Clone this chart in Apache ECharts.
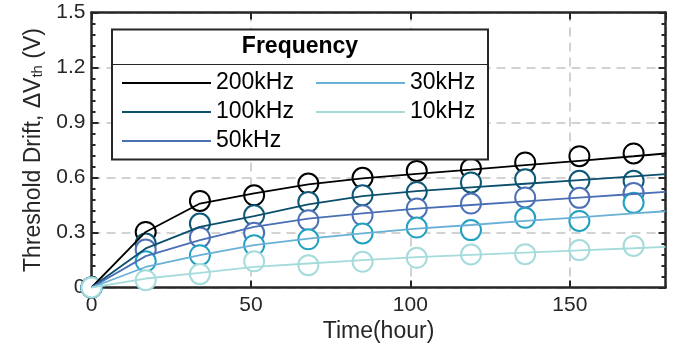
<!DOCTYPE html>
<html>
<head>
<meta charset="utf-8">
<script src="https://cdn.jsdelivr.net/npm/echarts@6/dist/echarts.min.js"></script>
<style>
html,body{margin:0;padding:0;background:#fff;}
#c{width:676px;height:351px;}
</style>
</head>
<body>
<div id="c"></div>
<script>
// ---- data ----
var hours = [0, 17, 34, 51, 68, 85, 102, 119, 136, 153, 170];
var fitHours = [0, 17, 34, 51, 68, 85, 102, 119, 136, 153, 170, 180];
var freqNames = ['200kHz', '100kHz', '50kHz', '30kHz', '10kHz'];

var meas200 = [0, 0.303, 0.472, 0.503, 0.567, 0.598, 0.636, 0.649, 0.682, 0.716, 0.731];
var meas100 = [0, 0.240, 0.349, 0.394, 0.467, 0.503, 0.521, 0.573, 0.591, 0.582, 0.582];
var meas50  = [0, 0.207, 0.273, 0.298, 0.367, 0.394, 0.431, 0.458, 0.491, 0.489, 0.516];
var meas30  = [0, 0.143, 0.176, 0.231, 0.263, 0.295, 0.327, 0.313, 0.380, 0.363, 0.462];
var meas10  = [0, 0.040, 0.073, 0.143, 0.122, 0.140, 0.162, 0.180, 0.182, 0.204, 0.227];

var fit200 = [0, 0.303, 0.458, 0.513, 0.562, 0.595, 0.620, 0.643, 0.667, 0.691, 0.716, 0.731];
var fit100 = [0, 0.213, 0.331, 0.389, 0.454, 0.498, 0.526, 0.546, 0.566, 0.586, 0.606, 0.618];
var fit50  = [0, 0.171, 0.258, 0.331, 0.376, 0.404, 0.430, 0.450, 0.470, 0.490, 0.510, 0.522];
var fit30  = [0, 0.112, 0.176, 0.231, 0.267, 0.295, 0.321, 0.341, 0.363, 0.383, 0.404, 0.416];
var fit10  = [0, 0.049, 0.080, 0.112, 0.131, 0.149, 0.166, 0.178, 0.190, 0.202, 0.214, 0.222];

var xTicks = [0, 50, 100, 150];
var yTicks = ['0', '0.3', '0.6', '0.9', '1.2', '1.5'];

// ---- styles ----
var lineColors = ['#000000', '#0b4f6c', '#4a6fb5', '#68b0d6', '#a6dbdb'];
var markColors = ['#000000', '#0d5877', '#4d70b6', '#22a0c2', '#a6dbdb'];
var measAll = [meas200, meas100, meas50, meas30, meas10];
var fitAll = [fit200, fit100, fit50, fit30, fit10];
var axisColor = '#262626';
var FONT = 'Liberation Sans, Arial, sans-serif';

function pairs(xs, ys) { return xs.map(function (x, i) { return [x, ys[i]]; }); }

var series = [];
measAll.forEach(function (m, i) {
  series.push({
    name: 'meas ' + freqNames[i],
    type: 'scatter',
    data: pairs(hours, m),
    symbol: 'circle',
    symbolSize: 20,
    clip: false,
    z: 2,
    itemStyle: { color: '#ffffff', borderColor: markColors[i], borderWidth: 2, opacity: 1 },
    emphasis: { disabled: true }
  });
});
fitAll.forEach(function (f, i) {
  series.push({
    name: freqNames[i],
    type: 'line',
    data: pairs(fitHours, f),
    showSymbol: false,
    symbol: 'none',
    z: 3,
    lineStyle: { color: lineColors[i], width: 1.8 },
    itemStyle: { color: lineColors[i] },
    emphasis: { disabled: true }
  });
});

function legendData(idx) {
  return idx.map(function (i) {
    return { name: freqNames[i], icon: 'rect', itemStyle: { color: lineColors[i] } };
  });
}
var legendCommon = {
  orient: 'vertical', padding: 0, itemWidth: 89, itemHeight: 2, itemGap: 3,
  selectedMode: false, z: 20,
  textStyle: { fontFamily: FONT, fontSize: 23, color: '#000', lineHeight: 26 }
};

var chart = echarts.init(document.getElementById('c'), null, { renderer: 'canvas' });
chart.setOption({
  animation: false,
  backgroundColor: '#ffffff',
  grid: { left: 91.5, right: 10.5, top: 12.5, bottom: 63.5, show: false },
  xAxis: [{
    type: 'value', min: 0, max: 180, interval: 50, position: 'bottom',
    name: 'Time(hour)', nameLocation: 'middle', nameGap: 31,
    nameTextStyle: { fontFamily: FONT, fontSize: 23, color: axisColor },
    axisLine: { show: true, onZero: false, lineStyle: { color: axisColor, width: 2.5 } },
    axisTick: { show: true, inside: true, length: 7, lineStyle: { color: axisColor, width: 2 } },
    axisLabel: { fontFamily: FONT, fontSize: 21, color: axisColor, margin: 7,
      showMaxLabel: false,
      formatter: function (v) { return xTicks.indexOf(v) >= 0 ? String(v) : ''; } },
    splitLine: { show: true, lineStyle: { color: '#c4c4c4', width: 1.5, type: [9, 6] } }
  }, {
    type: 'value', min: 0, max: 180, interval: 50, position: 'top',
    axisLine: { show: true, onZero: false, lineStyle: { color: axisColor, width: 2.5 } },
    axisTick: { show: true, inside: true, length: 7, lineStyle: { color: axisColor, width: 2 } },
    axisLabel: { show: false }, splitLine: { show: false }
  }],
  yAxis: [{
    type: 'value', min: 0, max: 1.5, interval: 0.3, position: 'left',
    name: 'Threshold Drift, \u0394V{sub|th} (V)', nameLocation: 'middle', nameGap: 52,
    nameTextStyle: { fontFamily: FONT, fontSize: 23, color: axisColor, lineHeight: 24, verticalAlign: 'top',
      rich: { sub: { fontFamily: FONT, fontSize: 15, color: axisColor, lineHeight: 14, verticalAlign: 'bottom', padding: [16, 0, 0, 0] } } },
    axisLine: { show: true, onZero: false, lineStyle: { color: axisColor, width: 2.5 } },
    axisTick: { show: true, inside: true, length: 7, lineStyle: { color: axisColor, width: 2 } },
    minorTick: { show: true, splitNumber: 5, length: 4, lineStyle: { color: axisColor, width: 2 } },
    axisLabel: { fontFamily: FONT, fontSize: 21, color: axisColor, margin: 6,
      formatter: function (v) { return yTicks[Math.round(v / 0.3)]; } },
    splitLine: { show: true, lineStyle: { color: '#c4c4c4', width: 1.5, type: [9, 6] } }
  }, {
    type: 'value', min: 0, max: 1.5, interval: 0.3, position: 'right',
    axisLine: { show: true, onZero: false, lineStyle: { color: axisColor, width: 2.5 } },
    axisTick: { show: true, inside: true, length: 7, lineStyle: { color: axisColor, width: 2 } },
    minorTick: { show: true, splitNumber: 5, length: 4, lineStyle: { color: axisColor, width: 2 } },
    axisLabel: { show: false }, splitLine: { show: false }
  }],
  graphic: [
    { type: 'rect', z: 10, shape: { x: 112, y: 29.5, width: 376, height: 130 },
      style: { fill: '#ffffff', stroke: '#262626', lineWidth: 2 } },
    { type: 'line', z: 11, shape: { x1: 112, y1: 64.5, x2: 488, y2: 64.5 },
      style: { stroke: '#262626', lineWidth: 1.2 } },
    { type: 'text', z: 11, x: 300, y: 47,
      style: { text: 'Frequency', font: 'bold 23px ' + FONT, fill: '#000', textAlign: 'center', textVerticalAlign: 'middle' } }
  ],
  legend: [
    Object.assign({}, legendCommon, { left: 122, top: 70, data: legendData([0, 1, 2]) }),
    Object.assign({}, legendCommon, { left: 316, top: 70, data: legendData([3, 4]) })
  ],
  series: series
});
</script>
</body>
</html>
